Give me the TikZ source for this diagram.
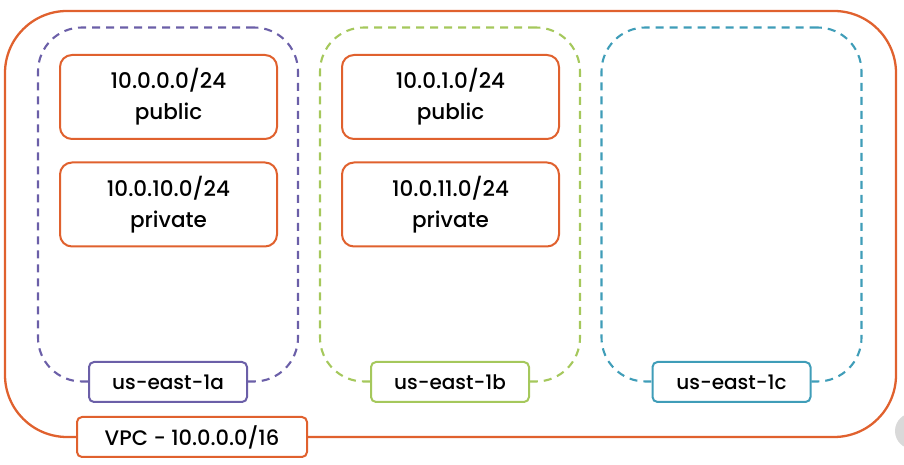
\documentclass[tikz,border=0pt]{standalone}
\usepackage{fontspec}
\setmainfont{Poppins}[UprightFont=* Medium]
\usepackage{xcolor}
\definecolor{vpcorange}{HTML}{E0612E}
\definecolor{azpurple}{HTML}{6B5FA8}
\definecolor{azgreen}{HTML}{A5C85C}
\definecolor{azteal}{HTML}{3F9DB8}
\tikzset{x=1pt, y=1pt,
  vpcbox/.style={draw=vpcorange, line width=2.3pt, rounded corners=62pt, minimum width=891pt, minimum height=426pt},
  azbox/.style={draw=#1, dashed, dash pattern=on 8pt off 6pt, line width=2.1pt, rounded corners=44pt, minimum width=260pt, minimum height=354pt},
  azlabel/.style={draw=#1, line width=2pt, fill=white, rounded corners=5pt, minimum width=158pt, minimum height=40pt, font=\fontsize{20}{22}\selectfont},
  subnet/.style={draw=vpcorange, line width=2pt, fill=white, rounded corners=12pt, minimum width=217pt, minimum height=84pt, align=center, font=\fontsize{21.5}{31}\selectfont},
  vpclabel/.style={draw=vpcorange, line width=2pt, fill=white, rounded corners=5pt, minimum width=230pt, minimum height=40pt, font=\fontsize{21}{22}\selectfont}}

\begin{document}
\begin{tikzpicture}
\useasboundingbox (0,0) rectangle (904,465);
\clip (0,0) rectangle (904,465);
\fill[black!15] (913,34) circle (18);

\node[vpcbox] (vpc) at (450.5,241) {};

\foreach \name/\x/\col/\txt in {a/168/azpurple/us-east-1a, b/450/azgreen/us-east-1b, c/731.5/azteal/us-east-1c}
{
  \node[azbox=\col] (az\name) at (\x,260.5) {};
  \node[azlabel=\col] (az\name lbl) at (\x,83) {\txt};
}

\node[subnet] (puba) at (168.5,368) {10.0.0.0/24\\public};
\node[subnet] (priva) at (168.5,260.5) {10.0.10.0/24\\private};
\node[subnet] (pubb) at (450.5,368) {10.0.1.0/24\\public};
\node[subnet] (privb) at (450.5,260.5) {10.0.11.0/24\\private};

\node[vpclabel] (vpclbl) at (192,28) {VPC - 10.0.0.0/16};
\end{tikzpicture}
\end{document}
